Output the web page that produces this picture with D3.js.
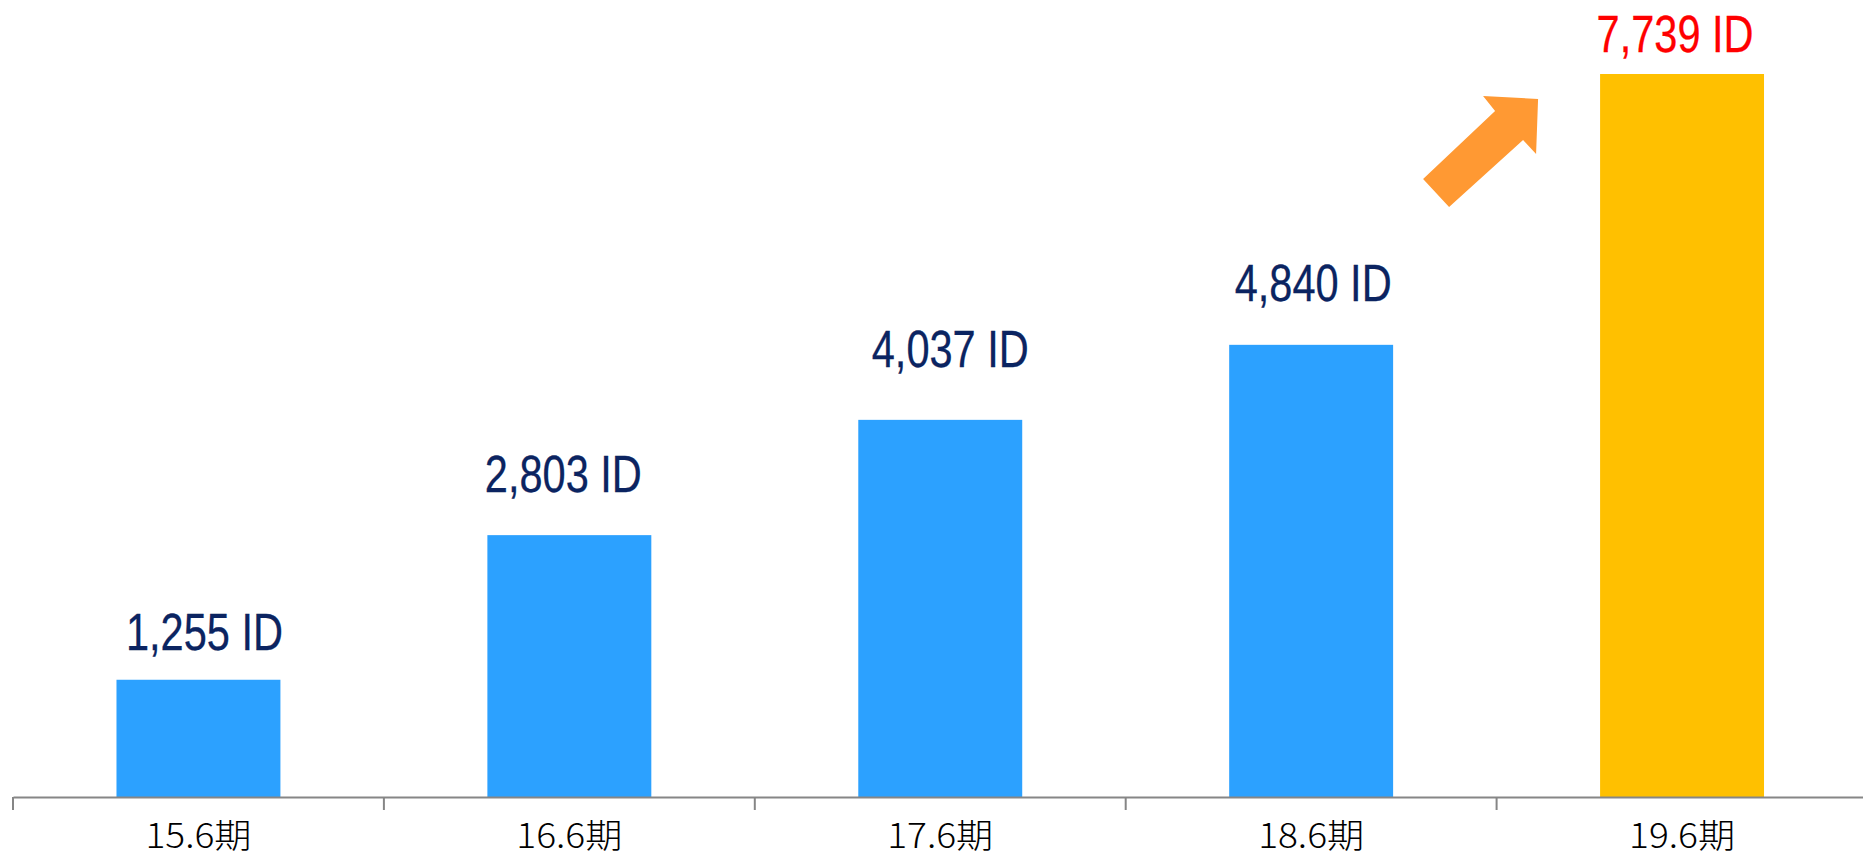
<!DOCTYPE html>
<html>
<head>
<meta charset="utf-8">
<script src="https://cdn.jsdelivr.net/npm/d3@7"></script>
<style>
  html, body { margin: 0; padding: 0; background: #ffffff; }
  svg { display: block; }
</style>
</head>
<body>
<svg id="chart" width="1863" height="859"></svg>
<script>
// ---- data ----
const categories = ["15.6期", "16.6期", "17.6期", "18.6期", "19.6期"];
const values = [1255, 2803, 4037, 4840, 7739];
const valueLabels = ["1,255 ID", "2,803 ID", "4,037 ID", "4,840 ID", "7,739 ID"];

// ---- layout tweaks for value labels (pixel nudges, layout only) ----
const labelLift = [30, 43, 53, 44, 22];
const labelShift = [6, -6, 10, 2, -7];

const W = 1863, H = 859;
const svg = d3.select("#chart");

const pad = 0.558;
const x = d3.scaleBand()
  .domain(categories)
  .range([13, 1867.5])
  .paddingInner(pad)
  .paddingOuter(pad / 2);

const xTick = d3.scaleBand().domain(categories).range([13, 1867.5]).padding(0);

const y = d3.scaleLinear().domain([0, d3.max(values)]).range([797, 74]);

const data = categories.map((c, i) => ({ c, v: values[i], label: valueLabels[i], i }));
const last = data.length - 1;

// bars
svg.append("g").selectAll("rect")
  .data(data)
  .join("rect")
  .attr("x", d => x(d.c))
  .attr("y", d => y(d.v))
  .attr("width", x.bandwidth())
  .attr("height", d => y(0) - y(d.v))
  .attr("fill", d => d.i === last ? "#FFC000" : "#2CA1FF");

// axis
const axis = d3.axisBottom(xTick).tickSize(13).tickSizeOuter(0).tickFormat(() => "");
const gAxis = svg.append("g").attr("transform", `translate(0,${y(0)})`).call(axis);
gAxis.select(".domain").attr("stroke", "#868686").attr("stroke-width", 2);
gAxis.selectAll(".tick").attr("transform", d => `translate(${xTick(d)},0)`);
gAxis.selectAll(".tick line").attr("stroke", "#868686").attr("stroke-width", 2);

// category labels
svg.append("g").selectAll("text")
  .data(data)
  .join("text")
  .attr("x", d => xTick(d.c) + xTick.bandwidth() / 2)
  .attr("y", 848)
  .attr("text-anchor", "middle")
  .attr("font-family", "'Noto Sans CJK JP', 'Noto Sans', sans-serif")
  .attr("font-weight", 300)
  .attr("font-size", 34)
  .attr("fill", "#000000")
  .attr("textLength", 106)
  .attr("lengthAdjust", "spacingAndGlyphs")
  .text(d => d.c);

// value labels
svg.append("g").selectAll("text")
  .data(data)
  .join("text")
  .attr("x", d => x(d.c) + x.bandwidth() / 2 + labelShift[d.i])
  .attr("y", d => y(d.v) - labelLift[d.i])
  .attr("text-anchor", "middle")
  .attr("font-family", "'Liberation Sans Narrow', 'Arial Narrow', 'Liberation Sans', sans-serif")
  .attr("font-size", 52)
  .attr("fill", d => d.i === last ? "#FF0000" : "#0B2461")
  .attr("stroke", d => d.i === last ? "#FF0000" : "#0B2461")
  .attr("stroke-width", 0.3)
  .attr("textLength", 157)
  .attr("lengthAdjust", "spacingAndGlyphs")
  .text(d => d.label);

// arrow pointing at the last bar
const ax = x(categories[last]);
const ay = y(values[last]);
const arrowPts = [[-177, 105], [-105, 37], [-117, 22], [-62, 25], [-64, 80], [-77, 66], [-151, 133]];
svg.append("polygon")
  .attr("points", arrowPts.map(p => [ax + p[0], ay + p[1]].join(",")).join(" "))
  .attr("fill", "#FF9933");
</script>
</body>
</html>
